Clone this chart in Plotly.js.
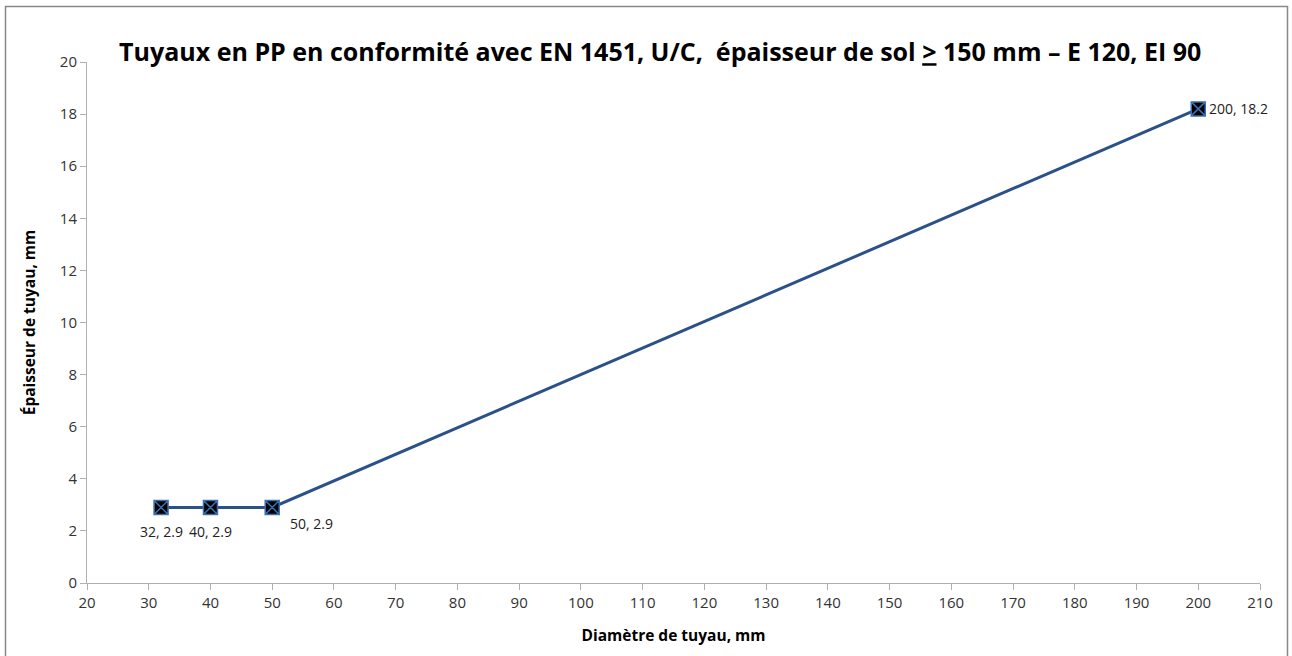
<!DOCTYPE html>
<html>
<head>
<meta charset="utf-8">
<script src="https://cdn.plot.ly/plotly-3.0.1.min.js"></script>
<style>
html,body{margin:0;padding:0;background:#fff;}
#chart{width:1292px;height:656px;}
</style>
</head>
<body>
<div id="chart"></div>
<script>
const diameters = [32, 40, 50, 200];
const thickness = [2.9, 2.9, 2.9, 18.2];
const xTicks = [20,30,40,50,60,70,80,90,100,110,120,130,140,150,160,170,180,190,200,210];
const yTicks = [0,2,4,6,8,10,12,14,16,18,20];

const labels = diameters.map((d, i) => d + ", " + thickness[i]);
const font = "Open Sans, Liberation Sans, sans-serif";
// label placement (style only)
const labelStyle = [
  {xanchor: "center", yanchor: "top", xshift: 0, yshift: -13},
  {xanchor: "center", yanchor: "top", xshift: 0, yshift: -13},
  {xanchor: "left", yanchor: "top", xshift: 16, yshift: -5},
  {xanchor: "left", yanchor: "middle", xshift: 9, yshift: 0}
];

const trace = {
  x: diameters,
  y: thickness,
  mode: "lines+markers",
  line: {color: "#2B5189", width: 3},
  marker: {symbol: "square-x", size: 14, color: "#000", line: {color: "#3A6FB0", width: 1.5}},
  cliponaxis: false,
  hoverinfo: "x+y"
};

const annotations = diameters.map((d, i) => Object.assign({
  x: d, y: thickness[i], xref: "x", yref: "y", text: labels[i], showarrow: false,
  font: {family: font, size: 14, color: "#222"}
}, labelStyle[i]));

const layout = {
  width: 1292, height: 656,
  margin: {l: 87, r: 32, t: 62, b: 73},
  paper_bgcolor: "#fff", plot_bgcolor: "#fff",
  showlegend: false,
  title: {
    text: "Tuyaux en PP en conformité avec EN 1451, U/C,  épaisseur de sol <u>></u> 150 mm – E 120, EI 90",
    font: {family: font, size: 25, color: "#000", weight: "bold"},
    x: 0.511, xanchor: "center", y: 0.92, yanchor: "middle"
  },
  xaxis: {
    range: [20, 210], tickvals: xTicks, ticktext: xTicks.map(String),
    showgrid: false, zeroline: false, showline: true, linecolor: "#b0b0b0", linewidth: 1,
    ticks: "outside", ticklen: 6, tickcolor: "#b0b0b0",
    tickfont: {family: font, size: 15, color: "#333"},
    title: {text: "Diamètre de tuyau, mm", font: {family: font, size: 15.5, color: "#000", weight: "bold"}, standoff: 19}
  },
  yaxis: {
    range: [0, 20], tickvals: yTicks, ticktext: yTicks.map(String),
    showgrid: false, zeroline: false, showline: true, linecolor: "#b0b0b0", linewidth: 1,
    ticks: "outside", ticklen: 6, tickcolor: "#b0b0b0",
    tickfont: {family: font, size: 15, color: "#333"},
    title: {text: "Épaisseur de tuyau, mm", font: {family: font, size: 15.5, color: "#000", weight: "bold"}, standoff: 20}
  },
  annotations: annotations,
  shapes: [{
    type: "rect", xref: "paper", yref: "paper",
    x0: (5.5 - 87) / 1173, x1: (1287.5 - 87) / 1173,
    y0: -0.3, y1: (583 - 6.5) / 521,
    line: {color: "#888", width: 1.5}, fillcolor: "rgba(0,0,0,0)", layer: "below"
  }]
};

Plotly.newPlot("chart", [trace], layout, {displayModeBar: false, staticPlot: true});
</script>
</body>
</html>
